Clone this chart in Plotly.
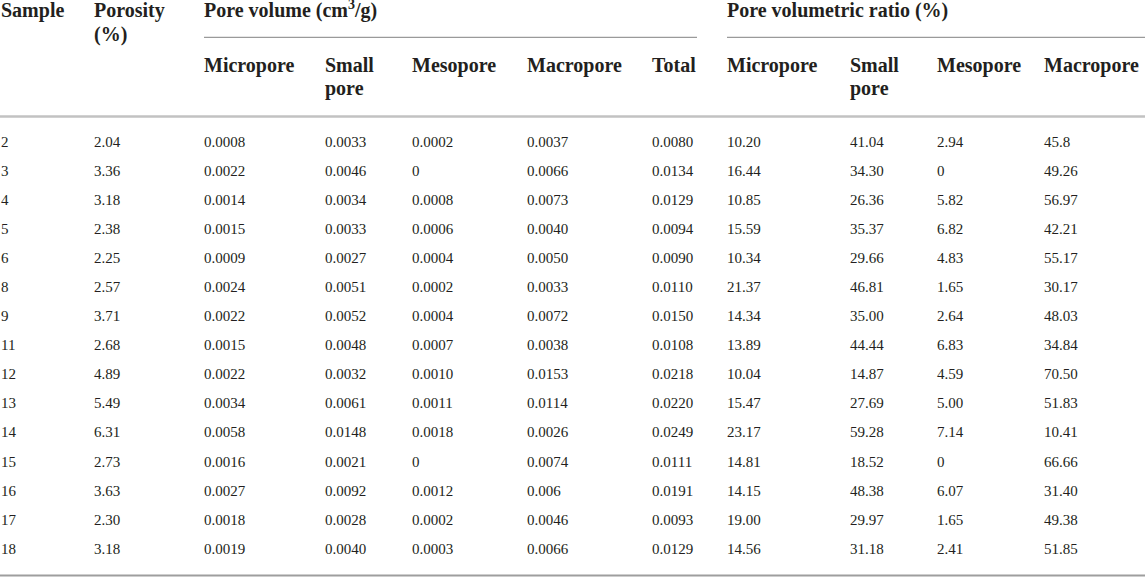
import plotly.graph_objects as go

# 表格資料
samples = ["2", "3", "4", "5", "6", "8", "9", "11", "12", "13", "14", "15", "16", "17", "18"]
porosity = ["2.04", "3.36", "3.18", "2.38", "2.25", "2.57", "3.71", "2.68", "4.89", "5.49",
            "6.31", "2.73", "3.63", "2.30", "3.18"]
vol_micro = ["0.0008", "0.0022", "0.0014", "0.0015", "0.0009", "0.0024", "0.0022", "0.0015",
             "0.0022", "0.0034", "0.0058", "0.0016", "0.0027", "0.0018", "0.0019"]
vol_small = ["0.0033", "0.0046", "0.0034", "0.0033", "0.0027", "0.0051", "0.0052", "0.0048",
             "0.0032", "0.0061", "0.0148", "0.0021", "0.0092", "0.0028", "0.0040"]
vol_meso = ["0.0002", "0", "0.0008", "0.0006", "0.0004", "0.0002", "0.0004", "0.0007",
            "0.0010", "0.0011", "0.0018", "0", "0.0012", "0.0002", "0.0003"]
vol_macro = ["0.0037", "0.0066", "0.0073", "0.0040", "0.0050", "0.0033", "0.0072", "0.0038",
             "0.0153", "0.0114", "0.0026", "0.0074", "0.006", "0.0046", "0.0066"]
vol_total = ["0.0080", "0.0134", "0.0129", "0.0094", "0.0090", "0.0110", "0.0150", "0.0108",
             "0.0218", "0.0220", "0.0249", "0.0111", "0.0191", "0.0093", "0.0129"]
ratio_micro = ["10.20", "16.44", "10.85", "15.59", "10.34", "21.37", "14.34", "13.89",
               "10.04", "15.47", "23.17", "14.81", "14.15", "19.00", "14.56"]
ratio_small = ["41.04", "34.30", "26.36", "35.37", "29.66", "46.81", "35.00", "44.44",
               "14.87", "27.69", "59.28", "18.52", "48.38", "29.97", "31.18"]
ratio_meso = ["2.94", "0", "5.82", "6.82", "4.83", "1.65", "2.64", "6.83",
              "4.59", "5.00", "7.14", "0", "6.07", "1.65", "2.41"]
ratio_macro = ["45.8", "49.26", "56.97", "42.21", "55.17", "30.17", "48.03", "34.84",
               "70.50", "51.83", "10.41", "66.66", "31.40", "49.38", "51.85"]

columns = [samples, porosity, vol_micro, vol_small, vol_meso, vol_macro, vol_total,
           ratio_micro, ratio_small, ratio_meso, ratio_macro]

top_headers = ["Sample", "Porosity", "Pore volume (cm<sup>3</sup>/g)", "Pore volumetric ratio (%)"]
top_header_cols = [0, 1, 2, 7]
sub_headers = ["Micropore", "Small", "Mesopore", "Macropore", "Total",
               "Micropore", "Small", "Mesopore", "Macropore"]
sub_header_cols = [2, 3, 4, 5, 6, 7, 8, 9, 10]

# 版面設定 (像素)
W, H = 1145, 577
col_x = [1, 94, 204, 325, 412, 527, 652, 727, 850, 937, 1044]
ROW0 = 143
ROW_H = 29.07
TEXT_COLOR = "#231f20"
FONT = "Liberation Serif"


def row_y(px):
    """像素位置轉換為列索引座標"""
    return (px - ROW0) / ROW_H


fig = go.Figure()

# 資料儲存格
for ci, col in enumerate(columns):
    fig.add_trace(go.Scatter(
        x=[col_x[ci]] * len(col),
        y=list(range(len(col))),
        text=col,
        mode="text",
        textposition="middle right",
        textfont=dict(family=FONT, size=15, color=TEXT_COLOR),
        hoverinfo="skip",
        showlegend=False
    ))

# 標題列
hx = [col_x[c] for c in top_header_cols] + [col_x[1]]
hy = [row_y(12)] * len(top_headers) + [row_y(35.5)]
ht = top_headers + ["(%)"]
sx = [col_x[c] for c in sub_header_cols] + [col_x[3], col_x[8]]
sy = [row_y(67)] * len(sub_headers) + [row_y(90)] * 2
st = sub_headers + ["pore", "pore"]

fig.add_trace(go.Scatter(
    x=hx + sx,
    y=hy + sy,
    text=ht + st,
    mode="text",
    textposition="middle right",
    textfont=dict(family=FONT, size=20, color=TEXT_COLOR, weight="bold"),
    hoverinfo="skip",
    showlegend=False
))

# 分隔線
lines = [
    (col_x[2], 697, 37.3, "#9a9a9a", 1.3),
    (col_x[7], W, 37.3, "#9a9a9a", 1.3),
    (0, W, 116.5, "#c2c2c2", 2.5),
    (0, W, 575.5, "#9e9e9e", 2),
]
for x0, x1, y, color, width in lines:
    fig.add_shape(type="line", xref="x", yref="y", x0=x0, x1=x1,
                  y0=row_y(y), y1=row_y(y), line=dict(color=color, width=width))

fig.update_layout(
    width=W,
    height=H,
    margin=dict(l=0, r=0, t=0, b=0),
    paper_bgcolor="white",
    plot_bgcolor="white",
    xaxis=dict(range=[0, W], visible=False, fixedrange=True),
    yaxis=dict(range=[row_y(H), row_y(0)], visible=False, fixedrange=True),
)

fig.write_html(
    "out.html",
    config={"displayModeBar": False},
    post_script="document.body.style.margin='0';document.body.style.overflow='hidden';"
)
